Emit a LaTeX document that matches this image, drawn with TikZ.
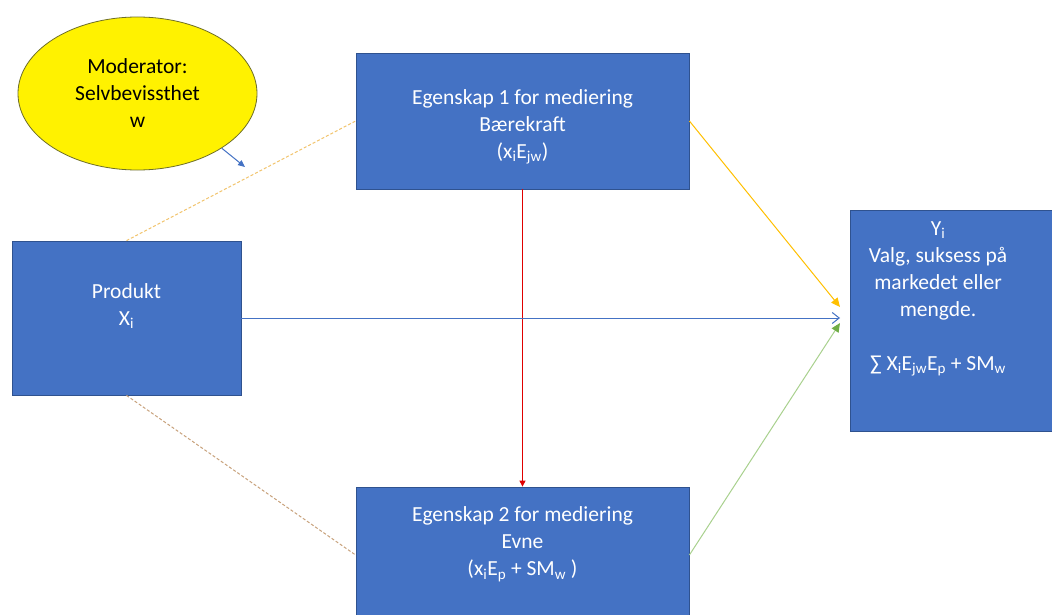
\documentclass[tikz,border=0pt]{standalone}
\usepackage{fontspec}
\setmainfont{Carlito}
\usetikzlibrary{arrows.meta,positioning,shapes.geometric}
\definecolor{boxblue}{HTML}{4472C4}
\definecolor{boxedge}{HTML}{2F528F}
\definecolor{oliveedge}{HTML}{6E6E28}
\definecolor{dashgold}{HTML}{F2C46D}
\definecolor{dashtan}{HTML}{C8A27C}
\definecolor{gold}{HTML}{FFC000}
\definecolor{greenline}{HTML}{A9D18E}
\definecolor{greentip}{HTML}{70AD47}
\definecolor{redline}{HTML}{E00000}
\newcommand{\ix}[1]{\textsubscript{#1}}

\begin{document}
\begin{tikzpicture}[x=1pt,y=-1pt,>=Latex,
  font=\fontsize{21.5}{27}\selectfont,
  mediator/.style={draw=boxedge,fill=boxblue,text=white,line width=0.8pt,
    align=center,minimum width=333pt,minimum height=136pt,inner sep=0pt},
  dashedlink/.style={line width=1pt,dash pattern=on 3pt off 2pt}]
  \clip (0,0) rectangle (1052,615);
  \fill[white] (0,0) rectangle (1052,615);
  % boxes
  \node[ellipse,draw=oliveedge,fill=yellow,line width=0.8pt,align=center,
    minimum width=239pt,minimum height=153pt,inner sep=0pt]
    (moderator) at (137.5,93.5) {Moderator:\\Selvbevissthet\\w};
  \node[mediator] (egen1) at (522.5,121)
    {\mbox{}\\[-1pt]Egenskap 1 for mediering\\Bærekraft\\(x\ix{i}E\ix{jw})};
  \node[mediator,minimum width=229pt,minimum height=154pt] (produkt)
    at (126.5,318) {Produkt\\X\ix{i}\\\mbox{}};
  \node[mediator] (egen2) at (522.5,555)
    {Egenskap 2 for mediering\\Evne\\(x\ix{i}E\ix{p} + SM\ix{w} )\\\mbox{}};
  \node[mediator,minimum width=212pt,minimum height=221pt] (utfall)
    at (956,320.5) {};
  \node[text=white,align=center,inner sep=0pt] (utfalltekst) at (938,299)
    {Y\ix{i}\\Valg, suksess på\\markedet eller\\mengde.\\\mbox{}\\%
     ∑ X\ix{i}E\ix{jw}E\ix{p} + SM\ix{w}};
  % arrow ends
  \coordinate (modpil) at (245,167);
  \coordinate (innA) at (840,307);
  \coordinate (inn) at (840,318);
  \coordinate (innB) at (840,323);
  % connectors
  \draw[boxblue,line width=1pt,-{Triangle[length=7pt,width=6pt]}]
    (moderator.-33) -- (modpil);
  \draw[dashedlink,dashgold] (produkt.north) -- (egen1.west);
  \draw[dashedlink,dashtan] (produkt.south) -- (egen2.west);
  \draw[redline,line width=1pt,-{Triangle[length=6pt,width=6pt]}]
    (egen1.south) -- (egen2.north);
  \draw[boxblue,line width=1pt,-{Straight Barb[length=7pt,width=11pt]}]
    (produkt.east) -- (inn);
  \draw[gold,line width=1pt,-{Triangle[length=9pt,width=8pt]}]
    (egen1.east) -- (innA);
  \draw[greenline,line width=1pt,-{Triangle[length=9pt,width=8pt,color=greentip]}]
    (egen2.east) -- (innB);
\end{tikzpicture}
\end{document}
